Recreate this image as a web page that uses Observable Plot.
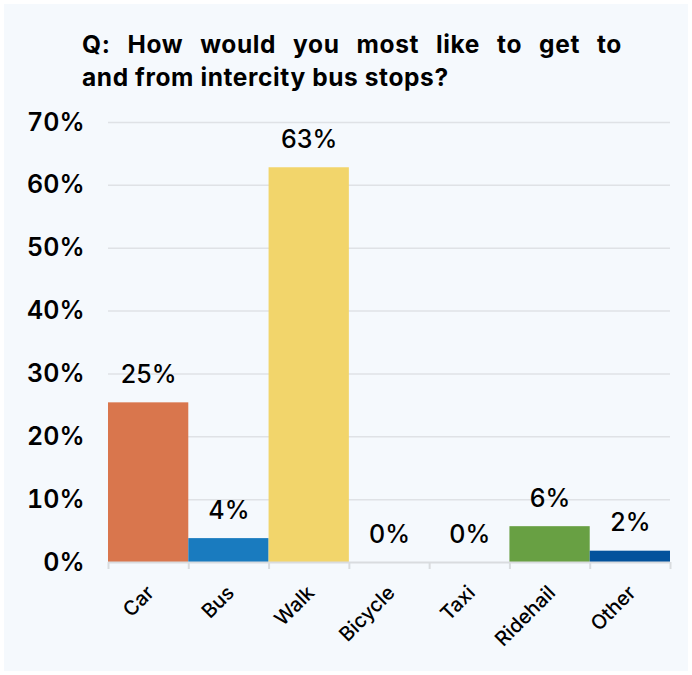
<!DOCTYPE html>
<html>
<head>
<meta charset="utf-8">
<script src="https://cdn.jsdelivr.net/npm/d3@7"></script>
<script src="https://cdn.jsdelivr.net/npm/@observablehq/plot@0.6"></script>
<style>
  html, body { margin: 0; padding: 0; background: #ffffff; }
  #wrap {
    position: relative;
    margin: 4px;
    width: 684px;
    height: 667px;
    background: #f5f9fd;
    font-family: Inter, "Noto Sans", sans-serif;
    color: #000;
    overflow: hidden;
  }
  #title {
    position: absolute;
    left: 78px;
    top: 24px;
    width: 540px;
    font-size: 24.5px;
    font-weight: 700;
    line-height: 33px;
    letter-spacing: 0.6px;
  }
  #title span { display: block; }
  #title .l1 { text-align: justify; text-align-last: justify; }
  #chart { position: absolute; left: 0; top: 88px; }
</style>
</head>
<body>
<div id="wrap">
  <div id="title"><span class="l1">Q: How would you most like to get to</span><span>and from intercity bus stops?</span></div>
  <div id="chart"></div>
</div>
<script>
const categories = ["Car", "Bus", "Walk", "Bicycle", "Taxi", "Ridehail", "Other"];
const values = [25.4, 3.8, 62.8, 0, 0, 5.7, 1.8];
const valueLabels = ["25%", "4%", "63%", "0%", "0%", "6%", "2%"];
const colors = ["#d9764d", "#197bbf", "#f2d56b", "#9e9e9e", "#9e9e9e", "#68a043", "#03529c"];
const yTicks = [0, 10, 20, 30, 40, 50, 60, 70];

const rows = categories.map((c, i) => ({ i, category: c, value: values[i], label: valueLabels[i], color: colors[i] }));

const chart = Plot.plot({
  width: 684,
  height: 575,
  marginLeft: 104,
  marginRight: 18,
  marginTop: 30,
  marginBottom: 105,
  style: { background: "transparent", fontFamily: "Inter, 'Noto Sans', sans-serif", color: "#000" },
  x: { type: "linear", domain: [0, categories.length], axis: null, label: null },
  y: { domain: [0, 70], axis: null, label: null },
  marks: [
    Plot.gridY(yTicks.filter(d => d > 0), { stroke: "#dfe2e6", strokeOpacity: 1, strokeWidth: 1.5 }),
    Plot.rectY(rows, { x1: "i", x2: d => d.i + 1, y1: 0, y2: "value", fill: "color", inset: 0 }),
    Plot.ruleY([0], { stroke: "#d9dcdf", strokeWidth: 2 }),
    Plot.axisX({ ticks: d3.range(0, categories.length + 1), tickFormat: () => "", tickSize: 7, stroke: "#d9dcdf", strokeWidth: 2, label: null }),
    Plot.axisY({ ticks: yTicks, tickFormat: d => d + "%", tickSize: 0, tickPadding: 24, fontSize: 25, fontWeight: 600, fill: "#000", label: null }),
    Plot.text(rows, { x: d => d.i + 0.5, y: "value", text: "label", dy: -28, fontSize: 25, fontWeight: 500, fill: "#000" }),
    Plot.text(rows, { x: d => d.i + 0.5, y: 0, text: "category", rotate: -45, textAnchor: "end", lineAnchor: "middle", dx: 2, dy: 27, fontSize: 20, fontWeight: 500, fill: "#000" })
  ]
});
document.getElementById("chart").appendChild(chart);
</script>
</body>
</html>
